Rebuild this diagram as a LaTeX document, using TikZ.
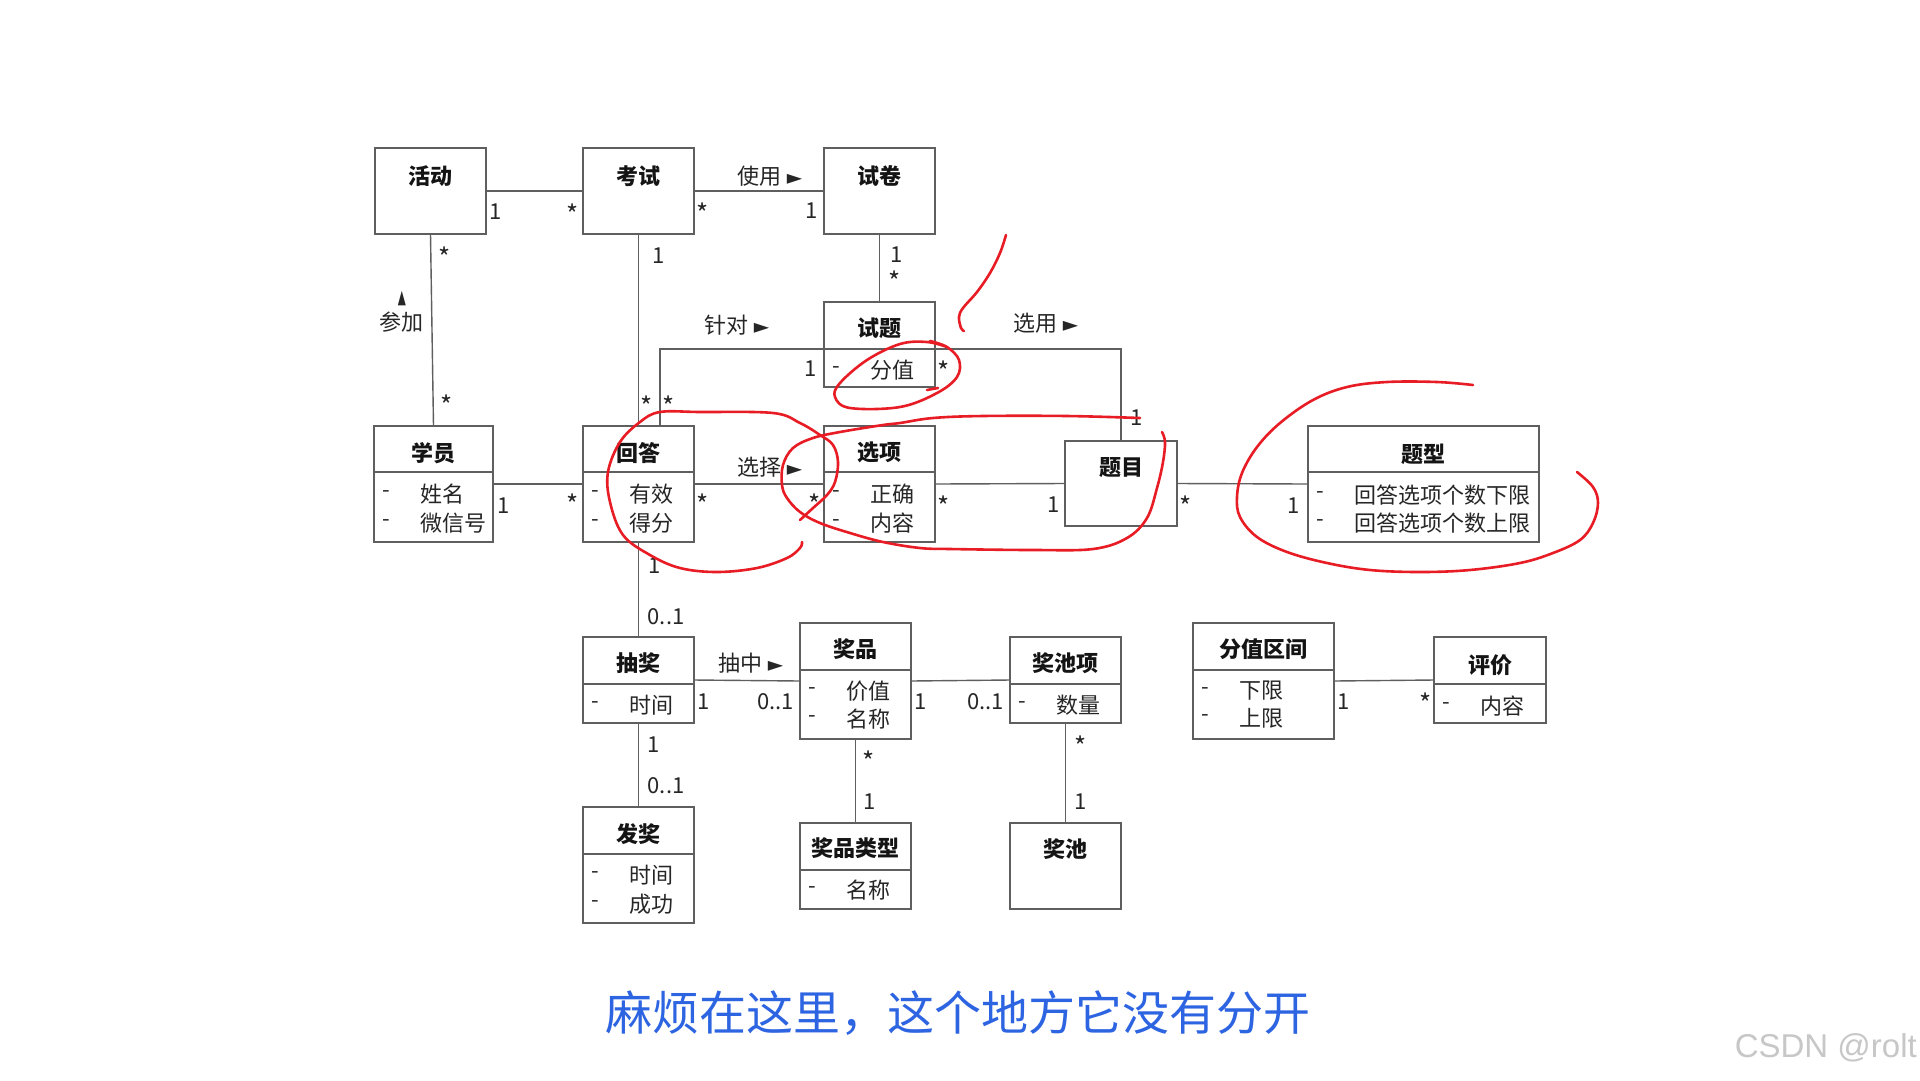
\documentclass[tikz,border=0pt]{standalone}
\usepackage{fontspec}
\setmainfont{Noto Sans CJK SC}
\newfontfamily\symf{DejaVu Sans}
\newfontfamily\wmf{Liberation Sans}
\usetikzlibrary{calc}
\definecolor{capblue}{RGB}{45,100,225}
\definecolor{penred}{RGB}{232,28,36}
\definecolor{linegray}{RGB}{95,95,95}
\newcommand{\ucls}[5]{\node[clsbox, minimum width={#4-#2}, minimum height={#5-#3}] (#1) at ({(#2+#4)/2},{(#3+#5)/2}) {};}
\newcommand{\uttl}[3]{\node[ttl] (#1t) at (#1.center |- 0,#2) {#3};}
\newcommand{\udiv}[2]{\draw[conn] (#1.west |- 0,#2) -- (#1.east |- 0,#2);}
\newcommand{\uattr}[5]{\node[dsh] (#1d#5) at ({#2+12},#3) {-};\node[attr] (#1a#5) at ({#2+46},#3) {#4};}
\newcommand{\tri}{{\symf\fontsize{20}{22}\selectfont ►}}
\begin{document}
\begin{tikzpicture}[x=1pt,y=-1pt,
 clsbox/.style={draw=linegray, line width=1.4pt, inner sep=0pt, outer sep=0pt},
 conn/.style={draw=linegray, line width=1.4pt},
 ttl/.style={font=\fontsize{22}{26}\selectfont\bfseries, text=black!92, inner sep=0pt},
 attr/.style={font=\fontsize{22}{26}\selectfont, text=black!85, inner sep=0pt, anchor=west},
 dsh/.style={font=\fontsize{22}{26}\selectfont, text=black!85, inner sep=0pt},
 mult/.style={font=\fontsize{22}{26}\selectfont, text=black!85, inner sep=0pt},
 star/.style={font=\fontsize{26}{30}\selectfont, text=black!85, inner sep=0pt, yshift=-4.5pt},
 pen/.style={draw=penred, line width=2.6pt, line cap=round, line join=round}
]
\fill[white] (0,0) rectangle (1920,1080);
\useasboundingbox (0,0) rectangle (1920,1080);

% classes
\ucls{huodong}{375}{148}{486}{234}\uttl{huodong}{176}{活动}
\ucls{kaoshi}{583}{148}{694}{234}\uttl{kaoshi}{176}{考试}
\ucls{shijuan}{824}{148}{935}{234}\uttl{shijuan}{176}{试卷}
\ucls{shiti}{824}{302}{935}{387}\uttl{shiti}{328}{试题}\udiv{shiti}{349}
\uattr{shiti}{824}{370}{分值}{1}
\ucls{xueyuan}{374}{426}{493}{542}\uttl{xueyuan}{453}{学员}\udiv{xueyuan}{472}
\uattr{xueyuan}{374}{494}{姓名}{1}\uattr{xueyuan}{374}{523}{微信号}{2}
\ucls{huida}{583}{426}{694}{542}\uttl{huida}{453}{回答}\udiv{huida}{472}
\uattr{huida}{583}{494}{有效}{1}\uattr{huida}{583}{523}{得分}{2}
\ucls{xuanxiang}{824}{426}{935}{542}\uttl{xuanxiang}{452}{选项}\udiv{xuanxiang}{472}
\uattr{xuanxiang}{824}{494}{正确}{1}\uattr{xuanxiang}{824}{523}{内容}{2}
\ucls{timu}{1065}{441}{1177}{526}\uttl{timu}{468}{题目}
\ucls{tixing}{1308}{426}{1539}{542}\uttl{tixing}{454}{题型}\udiv{tixing}{472}
\uattr{tixing}{1308}{495}{回答选项个数下限}{1}\uattr{tixing}{1308}{523}{回答选项个数上限}{2}
\ucls{choujiang}{583}{637}{694}{723}\uttl{choujiang}{663}{抽奖}\udiv{choujiang}{684}
\uattr{choujiang}{583}{705}{时间}{1}
\ucls{jiangpin}{800}{623}{911}{739}\uttl{jiangpin}{649}{奖品}\udiv{jiangpin}{670}
\uattr{jiangpin}{800}{691}{价值}{1}\uattr{jiangpin}{800}{719}{名称}{2}
\ucls{jcx}{1010}{637}{1121}{723}\uttl{jcx}{663}{奖池项}\udiv{jcx}{684}
\uattr{jcx}{1010}{705}{数量}{1}
\ucls{fzqj}{1193}{623}{1334}{739}\uttl{fzqj}{649}{分值区间}\udiv{fzqj}{670}
\uattr{fzqj}{1193}{691}{下限}{1}\uattr{fzqj}{1193}{718}{上限}{2}
\ucls{pingjia}{1434}{637}{1546}{723}\uttl{pingjia}{665}{评价}\udiv{pingjia}{684}
\uattr{pingjia}{1434}{706}{内容}{1}
\ucls{fajiang}{583}{807}{694}{923}\uttl{fajiang}{834}{发奖}\udiv{fajiang}{854}
\uattr{fajiang}{583}{875}{时间}{1}\uattr{fajiang}{583}{904}{成功}{2}
\ucls{jplx}{800}{823}{911}{909}\uttl{jplx}{848}{奖品类型}\udiv{jplx}{870}
\uattr{jplx}{800}{890}{名称}{1}
\ucls{jiangchi}{1010}{823}{1121}{909}\uttl{jiangchi}{849}{奖池}

% connectors
\draw[conn] (huodong.east) -- (kaoshi.west);
\draw[conn] (kaoshi.east) -- (shijuan.west);
\draw[conn] (huodong.south) -- (xueyuan.north);
\draw[conn] (shijuan.south) -- (shiti.north);
\draw[conn] (kaoshi.south) -- (huida.north);
\coordinate (zd) at (660,349);
\draw[conn] (huida.north -| zd) -- (zd) -- (zd -| shiti.west);
\coordinate (xy) at (1121,349);
\draw[conn] (xy -| shiti.east) -- (xy) -- (xy |- timu.north);
\draw[conn] (xueyuan.east) -- (huida.west);
\draw[conn] (huida.east) -- (xuanxiang.west);
\draw[conn] (xuanxiang.east) -- (timu.west);
\draw[conn] (timu.east) -- (tixing.west);
\draw[conn] (huida.south) -- (choujiang.north);
\draw[conn] (choujiang.east) -- (jiangpin.west);
\draw[conn] (jiangpin.east) -- (jcx.west);
\draw[conn] (choujiang.south) -- (fajiang.north);
\draw[conn] (jiangpin.south) -- (jplx.north);
\draw[conn] (jcx.south) -- (jiangchi.north);
\draw[conn] (fzqj.east) -- (pingjia.west);

% association names
\node[mult] (lb1) at (770,176) {使用 \tri};
\node[mult] (lb2) at (401,322) {参加};
\node[mult] (lb2a) at (402,299) {\symf\fontsize{19}{22}\selectfont\scalebox{0.55}[1]{▲}};
\node[mult] (lb3) at (737,325) {针对 \tri};
\node[mult] (lb4) at (1046,323) {选用 \tri};
\node[mult] (lb5) at (770,467) {选择 \tri};
\node[mult] (lb6) at (751,663) {抽中 \tri};

% multiplicities
\node[mult] (m1) at (496,212) {1};
\node[star] (m2) at (573,210) {*};
\node[star] (m3) at (703,209) {*};
\node[mult] (m4) at (812,211) {1};
\node[star] (m5) at (445,253) {*};
\node[star] (m6) at (447,401) {*};
\node[mult] (m7) at (897,255) {1};
\node[star] (m8) at (895,277) {*};
\node[mult] (m9) at (659,256) {1};
\node[star] (m10) at (646.5,402) {*};
\node[star] (m11) at (668.6,402) {*};
\node[mult] (m12) at (811,369) {1};
\node[star] (m13) at (944,367) {*};
\node[mult] (m14) at (1137,418) {1};
\node[mult] (m15) at (503.5,506) {1};
\node[star] (m16) at (573,500) {*};
\node[star] (m17) at (703,500) {*};
\node[star] (m18) at (814.6,500) {*};
\node[star] (m19) at (944,502) {*};
\node[mult] (m20) at (1054,505) {1};
\node[star] (m21) at (1186,502) {*};
\node[mult] (m22) at (1294,506) {1};
\node[mult] (m23) at (655,566) {1};
\node[mult] (m24) at (666,617) {0..1};
\node[mult] (m25) at (703.5,702) {1};
\node[mult] (m26) at (775.5,702) {0..1};
\node[mult] (m27) at (920.5,702) {1};
\node[mult] (m28) at (985.6,702) {0..1};
\node[mult] (m29) at (654,745) {1};
\node[mult] (m30) at (666,786) {0..1};
\node[star] (m31) at (869,757) {*};
\node[mult] (m32) at (870,802) {1};
\node[star] (m33) at (1080.5,742) {*};
\node[mult] (m34) at (1081,802) {1};
\node[mult] (m35) at (1344,702) {1};
\node[star] (m36) at (1426,699) {*};

% red pen marks
\draw[pen] plot[smooth, tension=0.6] coordinates {(1006,235) (1000,253) (990,273) (977,292) (963,308) (959,317) (961,328) (964,331)};
\draw[pen] plot[smooth, tension=0.6] coordinates {(947,347) (927,342) (900,344) (867,360) (840,383) (835,397) (850,408) (900,407) (937,393) (957,377) (959,360) (947,347) (930,341)};
\draw[pen] plot[smooth, tension=0.6] coordinates {(927,390) (938,388)};
\draw[pen] plot[smooth, tension=0.6] coordinates {(802,542) (800,548) (787,558) (757,568) (717,572) (680,568) (650,555) (623,535) (610,502) (608,472) (620,442) (640,422) (660,412) (700,412) (773,413) (800,423) (820,435) (833,445) (838,462) (835,482) (827,495) (813,508) (800,520)};
\draw[pen] plot[smooth, tension=0.6] coordinates {(1140,418) (1067,416) (983,416) (933,418) (900,423) (883,425) (840,432) (813,438) (793,448) (783,465) (782,485) (787,498) (800,512) (820,523) (850,533) (883,542) (920,548) (950,549) (1033,550) (1093,549) (1127,538) (1147,518) (1157,488) (1163,462) (1165,442) (1162,432)};
\draw[pen] plot[smooth, tension=0.6] coordinates {(1473,385) (1437,382) (1387,382) (1347,387) (1313,400) (1280,423) (1257,447) (1242,473) (1237,497) (1240,517) (1257,537) (1287,552) (1327,563) (1370,570) (1420,572) (1470,570) (1520,563) (1553,553) (1580,540) (1593,523) (1598,503) (1593,487) (1577,472)};

% caption and watermark
\node[font=\fontsize{47}{52}\selectfont, text=capblue, inner sep=0pt] (cap) at (958,1013) {麻烦在这里，这个地方它没有分开};
\node[font=\wmf\fontsize{33}{36}\selectfont, text=black!22, inner sep=0pt, anchor=east] (wm) at (1917,1048) {CSDN @rolt};
\end{tikzpicture}
\end{document}
